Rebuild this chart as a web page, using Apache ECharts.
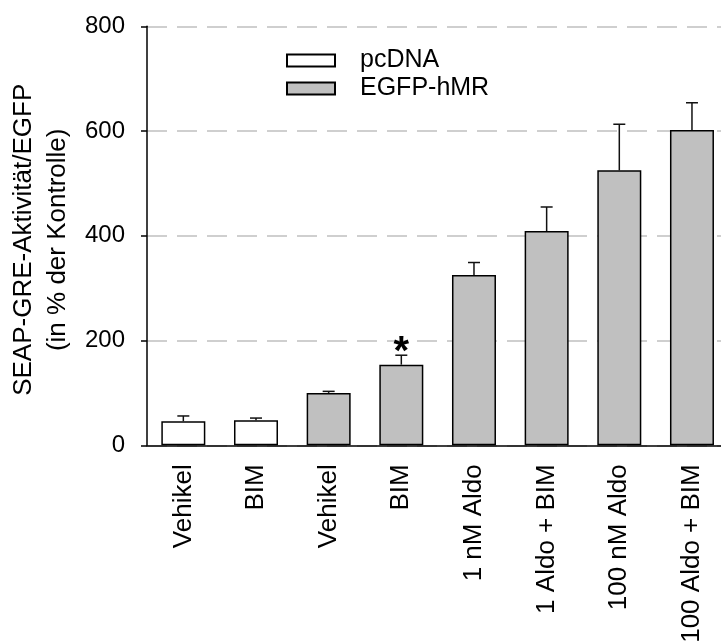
<!DOCTYPE html>
<html>
<head>
<meta charset="utf-8">
<script src="https://cdn.jsdelivr.net/npm/echarts@6/dist/echarts.min.js"></script>
<style>
  html, body { margin: 0; padding: 0; background: #fff; }
  #chart { width: 721px; height: 642px; }
</style>
</head>
<body>
<div id="chart"></div>
<script>
// Treatment groups along the x axis
const categories = ['Vehikel', 'BIM', 'Vehikel', 'BIM', '1 nM Aldo', '1 Aldo + BIM', '100 nM Aldo', '100 Aldo + BIM'];
// Mean SEAP-GRE activity (% of control) per transfection
const pcDNA = [46, 48, '-', '-', '-', '-', '-', '-'];
const egfpHMR = ['-', '-', 100, 154, 325, 409, 525, 602];
// Upper error (SEM) for each group
const errUp = [10, 4, 3, 18, 24, 46, 88, 52];
// Significance markers
const sigMarks = ['', '', '', '*', '', '', '', ''];
const yTicks = [0, 200, 400, 600, 800];

const FONT = '"Liberation Sans", Arial, sans-serif';

const means = categories.map((c, i) => (pcDNA[i] !== '-' ? pcDNA[i] : egfpHMR[i]));
const errData = categories.map((c, i) => [i, means[i], means[i] + errUp[i], sigMarks[i]]);

const chart = echarts.init(document.getElementById('chart'), null, { renderer: 'canvas' });

chart.setOption({
  animation: false,
  backgroundColor: '#ffffff',
  textStyle: { fontFamily: FONT },
  grid: { left: 147, top: 26.3, width: 581.3, height: 419, containLabel: false, outerBoundsMode: 'none' },
  legend: {
    orient: 'vertical',
    left: 286,
    top: 48,
    padding: 0,
    itemWidth: 48,
    itemHeight: 12,
    itemGap: 3,
    icon: 'rect',
    data: ['pcDNA', 'EGFP-hMR'],
    textStyle: { fontFamily: FONT, fontSize: 25, color: '#000', padding: [0, 0, 0, 20] }
  },
  xAxis: {
    type: 'category',
    data: categories,
    boundaryGap: true,
    axisLine: { lineStyle: { color: '#000', width: 1.5 } },
    axisTick: { alignWithLabel: true, length: 6, lineStyle: { color: '#000', width: 1.5 } },
    axisLabel: { rotate: 90, margin: 19, fontSize: 26, color: '#000', fontFamily: FONT, interval: 0 },
    splitLine: { show: false }
  },
  yAxis: {
    type: 'value',
    min: 0,
    max: 800,
    interval: 200,
    name: 'SEAP-GRE-Aktivität/EGFP\n(in % der Kontrolle)',
    nameLocation: 'middle',
    nameRotate: 90,
    nameGap: 72,
    nameMoveOverlap: false,
    nameTextStyle: { fontSize: 26, color: '#000', fontFamily: FONT, lineHeight: 34, padding: [0, 8, 0, 0] },
    axisLine: { show: true, lineStyle: { color: '#000', width: 1.5 } },
    axisTick: { show: true, length: 6, lineStyle: { color: '#000', width: 1.5 } },
    axisLabel: {
      margin: 22, fontSize: 24, color: '#000', fontFamily: FONT,
      formatter: v => (yTicks.indexOf(v) >= 0 ? String(v) : '')
    },
    splitLine: { show: true, lineStyle: { color: '#c0c0c0', width: 1.5, type: [20, 10] } }
  },
  series: [
    {
      name: 'pcDNA',
      type: 'bar',
      data: pcDNA,
      barWidth: 44,
      barGap: '-100%',
      itemStyle: { color: '#ffffff', borderColor: '#000', borderWidth: 1.5 },
      z: 3
    },
    {
      name: 'EGFP-hMR',
      type: 'bar',
      data: egfpHMR,
      barWidth: 44,
      barGap: '-100%',
      itemStyle: { color: '#c0c0c0', borderColor: '#000', borderWidth: 1.5 },
      z: 3
    },
    {
      name: 'err',
      type: 'custom',
      z: 2,
      data: errData,
      encode: { x: 0, y: [1, 2] },
      renderItem: function (params, api) {
        const idx = api.value(0);
        const base = api.coord([idx, api.value(1)]);
        const top = api.coord([idx, api.value(2)]);
        const half = 6;
        const children = [
          { type: 'line', shape: { x1: base[0], y1: base[1], x2: top[0], y2: top[1] },
            style: { stroke: '#111', lineWidth: 1.5 } },
          { type: 'line', shape: { x1: top[0] - half, y1: top[1], x2: top[0] + half, y2: top[1] },
            style: { stroke: '#111', lineWidth: 1.5 } }
        ];
        const mark = errData[params.dataIndex][3];
        if (mark) {
          children.push({
            type: 'text',
            x: top[0], y: top[1] - 2,
            style: { text: mark, fill: '#000', fontSize: 40, fontWeight: 'bold',
                     fontFamily: FONT, align: 'center', verticalAlign: 'middle' }
          });
        }
        return { type: 'group', children: children };
      }
    }
  ]
});
</script>
</body>
</html>
